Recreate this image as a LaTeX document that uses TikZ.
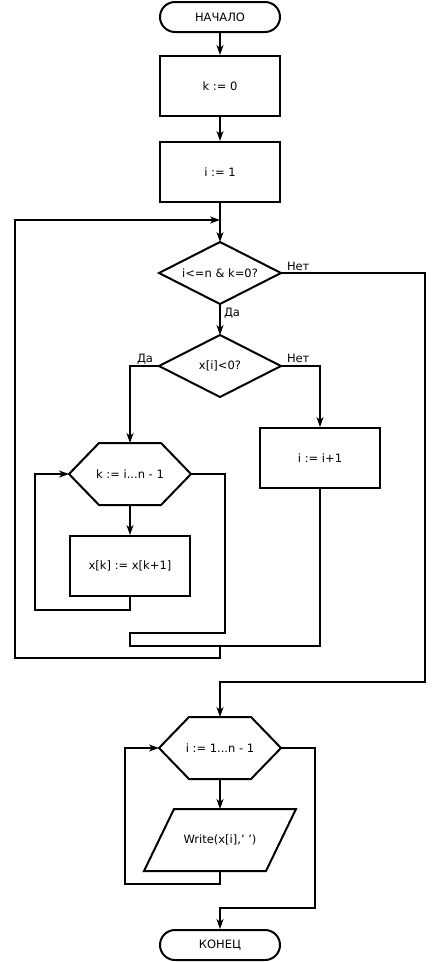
\documentclass[tikz,border=0pt]{standalone}
\usepackage{fontspec}
\setmainfont{DejaVu Sans}
\usetikzlibrary{arrows.meta,shapes.geometric,shapes.misc}
\newcommand\hexdraw[1]{%
  \draw (#1.west) -- ([xshift=30pt]#1.north west) -- ([xshift=-30pt]#1.north east)
    -- (#1.east) -- ([xshift=-30pt]#1.south east) -- ([xshift=30pt]#1.south west) -- cycle;}
\newcommand\paradraw[1]{%
  \draw ([xshift=15pt]#1.north west) -- ([xshift=15pt]#1.north east)
    -- ([xshift=-15pt]#1.south east) -- ([xshift=-15pt]#1.south west) -- cycle;}
\newcommand\diadraw[1]{%
  \draw (#1.west) -- (#1.north) -- (#1.east) -- (#1.south) -- cycle;}
\begin{document}
\begin{tikzpicture}[x=1pt,y=-1pt,line width=2pt,
  txt/.style={font=\fontsize{11.5}{13}\selectfont},
  box/.style={txt,draw,minimum width=120pt,minimum height=60pt,inner sep=0pt},
  term/.style={txt,draw,rounded rectangle,minimum width=120pt,minimum height=30pt,inner sep=0pt},
  ghost/.style={txt,minimum width=120pt,minimum height=60pt,inner sep=0pt},
  lbl/.style={txt,inner sep=0pt},
  arr/.style={-{Stealth[length=10pt,width=7pt,inset=3pt]}}]
\useasboundingbox (0,0) rectangle (440,962);

\node[term] (start) at (220,17) {НАЧАЛО};
\node[box] (k0) at (220,86) {k := 0};
\node[box] (i1) at (220,172) {i := 1};
\node[ghost] (d1) at (220,273) {i<=n \& k=0?};
\diadraw{d1}
\node[ghost] (d2) at (220,366) {x[i]<0?};
\diadraw{d2}
\node[box] (inc) at (320,458) {i := i+1};
\node[ghost] (h1) at (130,474) {k := i...n - 1};
\hexdraw{h1}
\node[box] (xk) at (130,566) {x[k] := x[k+1]};
\node[ghost] (h2) at (220,748) {i := 1...n - 1};
\hexdraw{h2}
\node[ghost] (wr) at (220,840) {Write(x[i],' ')};
\paradraw{wr}
\node[term] (end) at (220,945) {КОНЕЦ};

\coordinate (j1) at (220,220);
\coordinate (c1) at (425,682);
\coordinate (l1) at (35,610);
\coordinate (m1) at (225,633);
\coordinate (m2) at (130,646);
\coordinate (m3) at (220,646);
\coordinate (l2) at (15,658);
\coordinate (l3) at (125,884);
\coordinate (c2) at (315,908);

\draw[arr] (start) -- (k0);
\draw[arr] (k0) -- (i1);
\draw (i1.south) -- (j1);
\draw[arr] (j1) -- (d1.north);
\draw[arr] (d1.east) -| (c1) -| (h2.north);
\draw[arr] (d1.south) -- (d2.north);
\draw[arr] (d2.west) -| (h1.north);
\draw[arr] (d2.east) -| (inc.north);
\draw[arr] (h1.south) -- (xk.north);
\draw[arr] (xk.south) |- (l1) |- (h1.west);
\draw (h1.east) -| (m1) -| (m2) -- (m3);
\draw (inc.south) |- (m3);
\draw[arr] (m3) |- (l2) |- (j1);
\draw[arr] (h2.south) -- (wr.north);
\draw[arr] (wr.south) |- (l3) |- (h2.west);
\draw[arr] (h2.east) -| (c2) -| (end.north);

\node[lbl,anchor=base west] at ([xshift=5pt,yshift=3pt]d1.east) {Нет};
\node[lbl,anchor=base west] at (223,316) {Да};
\node[lbl,anchor=base west] at ([xshift=-23pt,yshift=4pt]d2.west) {Да};
\node[lbl,anchor=base west] at ([xshift=5pt,yshift=4pt]d2.east) {Нет};
\end{tikzpicture}
\end{document}
